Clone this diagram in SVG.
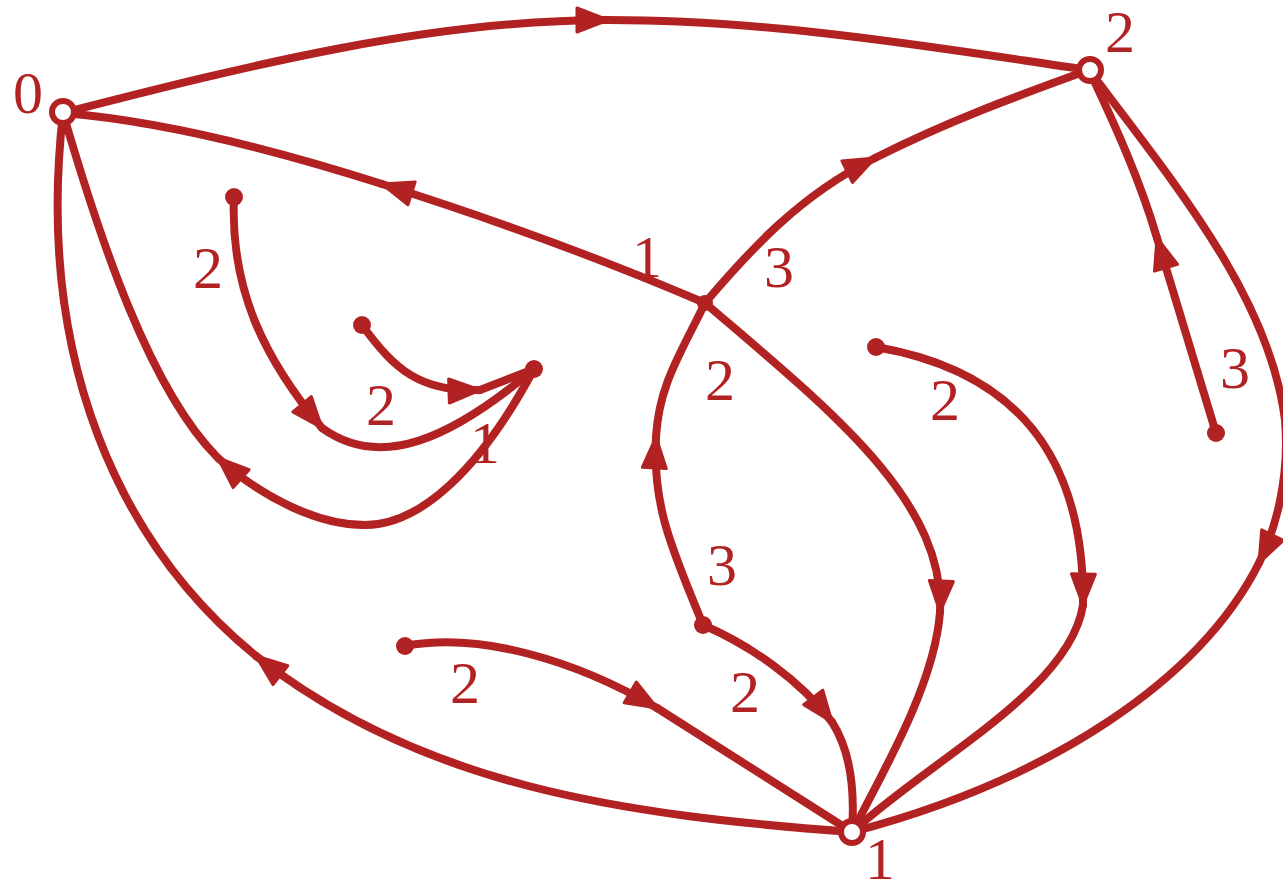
<svg xmlns="http://www.w3.org/2000/svg" width="1283" height="896" viewBox="0 0 1283 896">
<style>
.e{fill:none;stroke:#B22222;stroke-width:8;stroke-linecap:round}
.open{fill:#fff;stroke:#B22222;stroke-width:6}
.dot{fill:#B22222}
.lbl{font-family:"Liberation Serif","DejaVu Serif",serif;font-size:60px;fill:#B22222;text-anchor:middle}
</style>
<defs>
<marker id="arr" markerUnits="userSpaceOnUse" viewBox="-36 -16 40 32" markerWidth="40" markerHeight="32" refX="0" refY="0" orient="auto">
<path d="M-31,-12 L0,0 L-31,12 Z" fill="#B22222" stroke="#B22222" stroke-width="3" stroke-linejoin="round"/>
</marker>
</defs>
<rect width="1283" height="896" fill="#fff"/>
<g id="connectors">
<path class="e" marker-end="url(#arr)" d="M63,113 C250,65 430,20 608,20"/>
<path class="e" d="M608,20 C780,20 950,50 1089,70"/>
<path class="e" marker-end="url(#arr)" d="M705,303 C600,258 480,215 382,184"/>
<path class="e" d="M382,184 C260,145 150,120 63,113"/>
<path class="e" marker-end="url(#arr)" d="M705,303 C750,250 800,195 875,158"/>
<path class="e" d="M875,158 C950,120 1020,95 1089,70"/>
<path class="e" marker-end="url(#arr)" d="M703,625 C675,555 652,510 656,437"/>
<path class="e" d="M656,437 C659,385 680,355 705,303"/>
<path class="e" marker-end="url(#arr)" d="M705,303 C830,410 945,500 940,612"/>
<path class="e" d="M940,612 C935,680 890,760 852,832"/>
<path class="e" marker-end="url(#arr)" d="M703,625 C750,645 800,680 832,722"/>
<path class="e" d="M832,722 C850,750 855,790 852,832"/>
<path class="e" marker-end="url(#arr)" d="M405,646 C480,632 575,660 657,708"/>
<path class="e" d="M657,708 L852,832"/>
<path class="e" marker-end="url(#arr)" d="M876,347 C1010,370 1085,450 1083,605"/>
<path class="e" d="M1083,605 C1070,690 930,760 852,832"/>
<path class="e" marker-end="url(#arr)" d="M1089,70 C1180,190 1270,300 1285,420 C1290,480 1275,530 1259,563"/>
<path class="e" d="M1259,563 C1200,680 1050,780 852,832"/>
<path class="e" marker-end="url(#arr)" d="M1216,433 L1157,238"/>
<path class="e" d="M1157,238 C1140,180 1115,125 1089,70"/>
<path class="e" marker-end="url(#arr)" d="M852,832 C620,815 420,785 256,656"/>
<path class="e" d="M256,656 C120,545 35,360 63,113"/>
<path class="e" marker-end="url(#arr)" d="M534,369 C480,470 420,525 365,525 C320,525 265,500 218,458"/>
<path class="e" d="M218,458 C150,390 100,240 63,113"/>
<path class="e" marker-end="url(#arr)" d="M234,197 C230,290 265,360 322,428"/>
<path class="e" d="M322,428 C380,470 450,440 534,369"/>
<path class="e" marker-end="url(#arr)" d="M362,325 C395,370 420,392 480,390"/>
<path class="e" d="M480,390 L534,369"/>
</g>
<g id="junction"><circle class="dot" cx="705" cy="303" r="8"/></g>
<g id="d1"><circle class="dot" cx="234" cy="197" r="9"/></g>
<g id="d2"><circle class="dot" cx="362" cy="325" r="9"/></g>
<g id="d3"><circle class="dot" cx="534" cy="369" r="9"/></g>
<g id="d4"><circle class="dot" cx="876" cy="347" r="9"/></g>
<g id="d5"><circle class="dot" cx="1216" cy="433" r="9"/></g>
<g id="d6"><circle class="dot" cx="703" cy="625" r="9"/></g>
<g id="d7"><circle class="dot" cx="405" cy="646" r="9"/></g>
<g id="n0"><circle class="open" cx="63" cy="112" r="11"/><text class="lbl" x="28" y="113">0</text></g>
<g id="n2"><circle class="open" cx="1090" cy="70" r="11"/><text class="lbl" x="1120" y="52">2</text></g>
<g id="n1"><circle class="open" cx="852" cy="832" r="11"/><text class="lbl" x="880" y="879">1</text></g>
<g id="labels">
<text class="lbl" x="647" y="277">1</text>
<text class="lbl" x="779" y="287">3</text>
<text class="lbl" x="720" y="400">2</text>
<text class="lbl" x="208" y="288">2</text>
<text class="lbl" x="381" y="425">2</text>
<text class="lbl" x="485" y="463">1</text>
<text class="lbl" x="465" y="703">2</text>
<text class="lbl" x="722" y="585">3</text>
<text class="lbl" x="745" y="712">2</text>
<text class="lbl" x="945" y="420">2</text>
<text class="lbl" x="1235" y="388">3</text>
</g>
</svg>
